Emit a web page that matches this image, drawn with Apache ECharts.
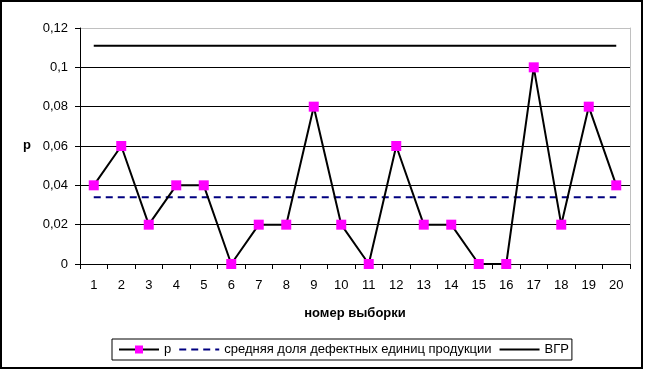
<!DOCTYPE html>
<html><head><meta charset="utf-8">
<script src="https://cdn.jsdelivr.net/npm/echarts@6/dist/echarts.min.js"></script>
<style>html,body{margin:0;padding:0;background:#fff}#c{width:645px;height:371px}</style>
</head><body><div id="c"></div>
<script>
var categories = ['1','2','3','4','5','6','7','8','9','10','11','12','13','14','15','16','17','18','19','20'];
var pValues = [0.04,0.06,0.02,0.04,0.04,0,0.02,0.02,0.08,0.02,0,0.06,0.02,0.02,0,0,0.1,0.02,0.08,0.04];
var meanValues = [0.034,0.034,0.034,0.034,0.034,0.034,0.034,0.034,0.034,0.034,0.034,0.034,0.034,0.034,0.034,0.034,0.034,0.034,0.034,0.034];
var uclValues = [0.111,0.111,0.111,0.111,0.111,0.111,0.111,0.111,0.111,0.111,0.111,0.111,0.111,0.111,0.111,0.111,0.111,0.111,0.111,0.111];
var yTickLabels = ['0','0,02','0,04','0,06','0,08','0,1','0,12'];
var seriesNames = ['p','средняя доля дефектных единиц продукции','ВГР'];

var font = 'Liberation Sans, Arial, sans-serif';
var chart = echarts.init(document.getElementById('c'), null, {renderer:'canvas'});
chart.setOption({
  animation:false,
  textStyle:{fontFamily:font},
  grid:{left:80,right:15,top:28,bottom:107},
  xAxis:{type:'category',data:categories,boundaryGap:true,
    name:'номер выборки',nameLocation:'middle',nameGap:43,
    nameTextStyle:{fontFamily:font,fontSize:13,fontWeight:'bold',color:'#000'},
    axisLine:{lineStyle:{color:'#000',width:1}},
    axisTick:{show:true,alignWithLabel:false,length:5,lineStyle:{color:'#000'}},
    axisLabel:{color:'#000',fontSize:13,fontFamily:font,margin:15,interval:0},
    splitLine:{show:false}},
  yAxis:[{type:'value',min:0,max:0.12,interval:0.02,
    axisLine:{show:true,lineStyle:{color:'#000',width:1}},
    axisTick:{show:true,length:5,lineStyle:{color:'#000'}},
    axisLabel:{color:'#000',fontSize:13,fontFamily:font,margin:12,
      formatter:function(v){return yTickLabels[Math.round(v/0.02)];}},
    splitLine:{show:true,lineStyle:{color:['#000','#000','#000','#000','#000','#000','#c0c0c0'],width:1}}},
    {type:'value',min:0,max:0.12,interval:0.02,position:'right',
    axisLine:{show:true,lineStyle:{color:'#c0c0c0',width:1}},
    axisTick:{show:false},axisLabel:{show:false},splitLine:{show:false}}],
  legend:{left:112,top:339,itemWidth:40,itemHeight:10,itemGap:7,
    padding:[4,3,4,6],borderColor:'#000',borderWidth:1,borderRadius:0,
    textStyle:{fontFamily:font,fontSize:13,color:'#000'},
    data:[{name:seriesNames[0]},
          {name:seriesNames[1],itemStyle:{opacity:0}},
          {name:seriesNames[2],itemStyle:{opacity:0}}]},
  series:[
    {name:seriesNames[0],type:'line',data:pValues,symbol:'rect',symbolSize:10,
      itemStyle:{color:'#ff00ff'},lineStyle:{color:'#000',width:2},z:5},
    {name:seriesNames[1],type:'line',data:meanValues,symbol:'none',showSymbol:false,
      itemStyle:{color:'#000080'},lineStyle:{color:'#000080',width:2,type:[7,5]},z:3},
    {name:seriesNames[2],type:'line',data:uclValues,symbol:'none',showSymbol:false,
      itemStyle:{color:'#000'},lineStyle:{color:'#000',width:2},z:3}
  ],
  graphic:[
    {type:'text',left:23,top:139,style:{text:'p',font:'bold 13px '+font,fill:'#000'}},
    {type:'rect',shape:{x:1,y:1,width:641,height:367},style:{fill:'none',stroke:'#000',lineWidth:2},silent:true}
  ]
});
</script></body></html>
